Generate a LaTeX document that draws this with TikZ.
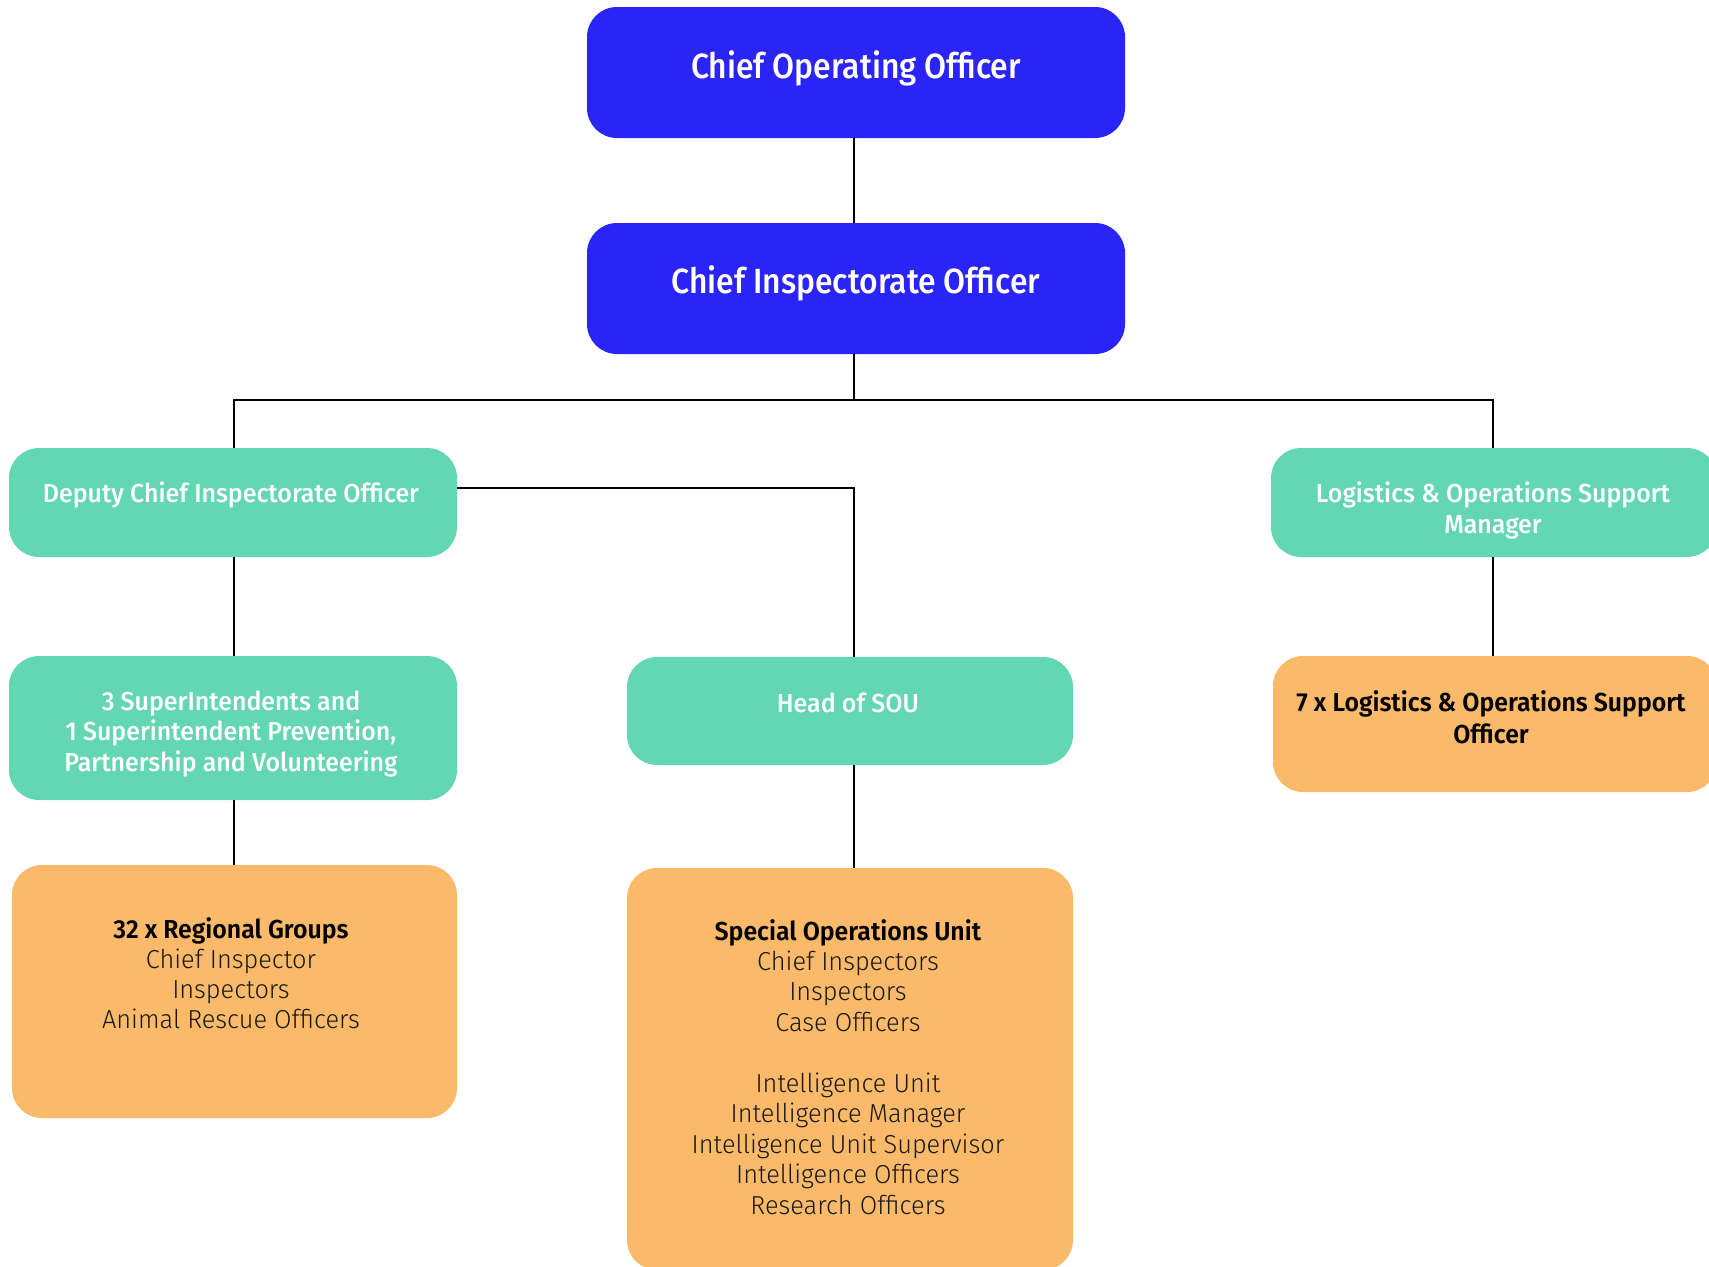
\documentclass[tikz,border=0pt]{standalone}
\usepackage{fontspec}
\setmainfont{Fira Sans}
\newfontfamily\titlef[FakeStretch=0.91]{Fira Sans Medium}
\newfontfamily\medf[FakeStretch=0.96]{Fira Sans Medium}
\newfontfamily\boldf[FakeStretch=0.955]{Fira Sans SemiBold}
\newfontfamily\lightf[FakeStretch=0.975]{Fira Sans Light}
\definecolor{cblue}{RGB}{42,37,246}
\definecolor{cgreen}{RGB}{99,214,178}
\definecolor{corange}{RGB}{250,186,106}
\definecolor{ctext}{RGB}{25,25,25}
\newcommand\lstack[2]{\vtop{\baselineskip=#1\lineskiplimit=-100pt\halign{\hfil##\hfil\cr#2\crcr}}}
\tikzset{
  box/.style={draw=none, rounded corners=30pt, inner sep=0pt, outer sep=0pt},
  bluebox/.style={box, fill=cblue},
  greenbox/.style={box, fill=cgreen},
  orangebox/.style={box, fill=corange},
  lbl/.style={anchor=base, inner sep=0pt, outer sep=0pt},
  conn/.style={line width=2.4pt, black},
}
\begin{document}
\begin{tikzpicture}[x=1pt, y=-1pt]
\useasboundingbox (0,0) rectangle (1709,1267);
\clip (0,0) rectangle (1709,1267);
% boxes
\node[bluebox, minimum width=538pt, minimum height=131pt] (coo) at (856,72.5) {};
\node[bluebox, minimum width=538pt, minimum height=131pt] (cio) at (856,288.5) {};
\node[greenbox, minimum width=448pt, minimum height=109pt] (dcio) at (233,502.5) {};
\node[greenbox, minimum width=448pt, minimum height=144pt] (sup) at (233,728) {};
\node[orangebox, minimum width=445pt, minimum height=253pt] (reg) at (234.5,991.5) {};
\node[greenbox, minimum width=446pt, minimum height=108pt] (hsou) at (850,711) {};
\node[orangebox, minimum width=446pt, minimum height=402pt] (sou) at (850,1069) {};
\node[greenbox, minimum width=446pt, minimum height=109pt] (losm) at (1494,502.5) {};
\node[orangebox, minimum width=444pt, minimum height=136pt] (loso) at (1495,724) {};
% connector helpers
\coordinate (spine) at (854,0);
\coordinate (lspine) at (234,0);
\coordinate (rspine) at (1493,0);
\coordinate (bar) at (0,400);
\coordinate (dbar) at (0,488);
% connectors
\draw[conn] (coo.south -| spine) -- (cio.north -| spine);
\draw[conn] (cio.south -| spine) -- (spine |- bar);
\draw[conn] (dcio.north -| lspine) -- (lspine |- bar) -- (rspine |- bar) -- (losm.north -| rspine);
\draw[conn] (dcio.east |- dbar) -- (spine |- dbar) -- (hsou.north -| spine);
\draw[conn] (dcio.south -| lspine) -- (sup.north -| lspine);
\draw[conn] (sup.south -| lspine) -- (reg.north -| lspine);
\draw[conn] (hsou.south -| spine) -- (sou.north -| spine);
\draw[conn] (losm.south -| rspine) -- (loso.north -| rspine);
% labels
\node[lbl, text=white, font=\titlef\fontsize{35}{42}\selectfont] (tcoo) at (856,78) {Chief Operating Officer};
\node[lbl, text=white, font=\titlef\fontsize{35}{42}\selectfont] (tcio) at (856,293) {Chief Inspectorate Officer};
\node[lbl, text=white, font=\medf\fontsize{26}{31}\selectfont] (tdcio) at (231,502) {Deputy Chief Inspectorate Officer};
\node[lbl, text=white, font=\medf\fontsize{26}{31}\selectfont] (tsup) at (231,710) {\lstack{30.8pt}{3 SuperIntendents and\cr 1 Superintendent Prevention,\cr Partnership and Volunteering}};
\node[lbl, text=white, font=\medf\fontsize{26}{31}\selectfont] (tlosm) at (1493,502) {\lstack{31.5pt}{Logistics \& Operations Support\cr Manager}};
\node[lbl, text=white, font=\medf\fontsize{26}{31}\selectfont] (thsou) at (848,712) {Head of SOU};
\node[lbl, text=black, font=\fontsize{26}{31}\selectfont] (tloso) at (1491,711.5) {\lstack{31.6pt}{\boldf 7 x Logistics \& Operations Support\cr \boldf Officer}};
\node[lbl, text=ctext, font=\fontsize{26}{31}\selectfont] (treg) at (231,938) {\lstack{30.2pt}{\boldf\color{black}32 x Regional Groups\cr \lightf Chief Inspector\cr \lightf Inspectors\cr \lightf Animal Rescue Officers}};
\node[lbl, text=ctext, font=\fontsize{26}{31}\selectfont] (tsou) at (848,940) {\lstack{30.45pt}{\boldf\color{black}Special Operations Unit\cr \lightf Chief Inspectors\cr \lightf Inspectors\cr \lightf Case Officers\cr \cr \lightf Intelligence Unit\cr \lightf Intelligence Manager\cr \lightf Intelligence Unit Supervisor\cr \lightf Intelligence Officers\cr \lightf Research Officers}};
\end{tikzpicture}
\end{document}
